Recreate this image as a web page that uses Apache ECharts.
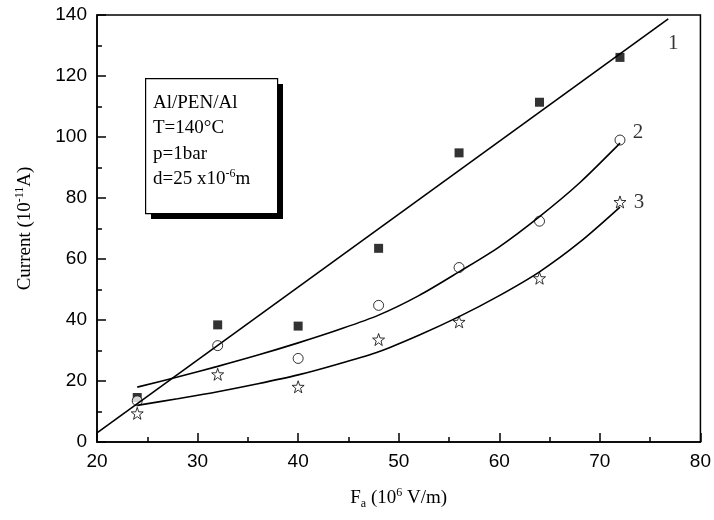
<!DOCTYPE html>
<html>
<head>
<meta charset="utf-8">
<script src="https://cdn.jsdelivr.net/npm/echarts@6/dist/echarts.min.js"></script>
<style>
  html, body { margin: 0; padding: 0; background: #fff; }
  #chart { width: 714px; height: 520px; }
</style>
</head>
<body>
<div id="chart"></div>
<script>
// measured points (field in 10^6 V/m)
const fields = [24, 32, 40, 48, 56, 64, 72];
const current1 = [14.6, 38.4, 38.0, 63.5, 94.8, 111.4, 126.1]; // squares
const current2 = [13.5, 31.6, 27.4, 44.8, 57.2, 72.4, 99.0];   // circles
const current3 = [9.4, 22.2, 18.1, 33.6, 39.4, 53.7, 78.7];    // stars

// fitted curves
const fit1 = [[20, 3], [76.8, 138.7]];
const fitX = [24, 28, 32, 36, 40, 44, 48, 52, 56, 60, 64, 68, 72];
const fit2 = [18, 21.3, 24.8, 28.5, 32.5, 36.8, 41.6, 48, 55.8, 64, 73.9, 85, 98];
const fit3 = [12, 14.2, 16.5, 19.1, 22, 25.6, 29.6, 35, 41.1, 48, 55.8, 65.5, 77];

// curve numbers
const curveLabels = [[77.3, 130.5, '1'], [73.8, 101.6, '2'], [73.9, 78.4, '3']];

const starPath = 'path://M0,-10L2.35,-3.24L9.51,-3.09L3.8,1.24L5.88,8.09L0,4L-5.88,8.09L-3.8,1.24L-9.51,-3.09L-2.35,-3.24Z';
const serif = '"Liberation Serif", "DejaVu Serif", serif';
const sans = '"Liberation Sans", Arial, sans-serif';

const chart = echarts.init(document.getElementById('chart'));

const axisCommon = {
  axisLine: { show: true, lineStyle: { color: '#000', width: 1.5 } },
  axisTick: { show: true, inside: true, length: 9, lineStyle: { color: '#000', width: 1.5 } },
  minorTick: { show: true, splitNumber: 2, length: 5, lineStyle: { color: '#000', width: 1.5 } },
  splitLine: { show: false },
  axisLabel: { color: '#000', fontSize: 19, fontFamily: sans, margin: 10 },
};

const pts = (xs, ys) => xs.map((x, i) => [x, ys[i]]);

const fitLine = (data, smooth) => ({
  type: 'line', data, showSymbol: false, silent: true, smooth,
  lineStyle: { color: '#000', width: 1.6 },
});

const option = {
  animation: false,
  backgroundColor: '#fff',
  grid: { left: 97, top: 15, right: 12, bottom: 78, show: true, borderColor: '#000', borderWidth: 1.5 },
  xAxis: Object.assign({}, axisCommon, {
    type: 'value', min: 20, max: 80, interval: 10,
    name: 'F{sub|a} (10{sup|6} V/m)',
    nameLocation: 'middle', nameGap: 44,
    nameTextStyle: {
      color: '#000', fontSize: 19, fontFamily: serif,
      rich: {
        sub: { fontSize: 12, fontFamily: serif, color: '#000', padding: [12, 0, 0, 0] },
        sup: { fontSize: 12, fontFamily: serif, color: '#000', padding: [0, 0, 10, 0] },
      },
    },
  }),
  yAxis: Object.assign({}, axisCommon, {
    type: 'value', min: 0, max: 140, interval: 20,
    name: 'Current (10{sup|-11}A)',
    nameLocation: 'middle', nameGap: 61,
    nameTextStyle: {
      color: '#000', fontSize: 19, fontFamily: serif,
      rich: {
        sup: { fontSize: 12, fontFamily: serif, color: '#000', padding: [0, 0, 10, 0] },
      },
    },
  }),
  series: [
    fitLine(fit1, false),
    fitLine(pts(fitX, fit2), 0.3),
    fitLine(pts(fitX, fit3), 0.3),
    {
      type: 'scatter', data: pts(fields, current1), symbol: 'rect', symbolSize: 9,
      itemStyle: { color: '#000' },
    },
    {
      type: 'scatter', data: pts(fields, current2), symbol: 'circle', symbolSize: 10,
      itemStyle: { color: '#fff', borderColor: '#000', borderWidth: 1 },
    },
    {
      type: 'scatter', data: pts(fields, current3), symbol: starPath, symbolSize: 12,
      itemStyle: { color: '#fff', borderColor: '#000', borderWidth: 1 },
    },
    {
      type: 'scatter', data: curveLabels, symbolSize: 0, silent: true,
      label: {
        show: true, position: 'inside', color: '#000', fontSize: 21, fontFamily: serif,
        formatter: (p) => p.data[2],
      },
    },
  ],
  graphic: [
    // shadow + box of the conditions note
    { type: 'rect', left: 151, top: 84, shape: { width: 132, height: 135 }, style: { fill: '#000' }, silent: true },
    { type: 'rect', left: 145, top: 78, shape: { width: 132, height: 135 }, style: { fill: '#fff', stroke: '#000', lineWidth: 1.2 }, silent: true },
    {
      type: 'text', left: 153, top: 90,
      style: {
        text: 'Al/PEN/Al\nT=140°C\np=1bar\nd=25 x10{sup|-6}m',
        fill: '#000', font: '19px ' + serif, lineHeight: 25.5,
        rich: { sup: { fontSize: 12, fontFamily: serif, fill: '#000', padding: [0, 0, 10, 0] } },
      },
      silent: true,
    },
  ],
};

chart.setOption(option);
</script>
</body>
</html>
